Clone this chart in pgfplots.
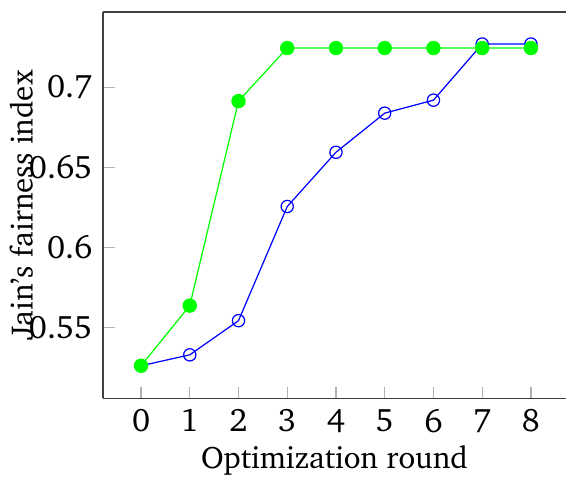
\documentclass[border=0pt]{standalone}
\usepackage[T1]{fontenc}
\usepackage{charter}
\usepackage{pgfplots}
\pgfplotsset{compat=1.18}
\usetikzlibrary{calc}
\begin{document}
\begin{tikzpicture}
\begin{axis}[
  name=ax,
  scale only axis,
  width=151pt, height=126pt,
  xmin=-0.78, xmax=8.72,
  ymin=0.506, ymax=0.7469,
  axis x line*=box, axis y line*=left,
  xtick={0,1,2,3,4,5,6,7,8},
  ytick={0.55,0.6,0.65,0.7},
  yticklabels={0.55,0.6,0.65,0.7},
  xtick pos=bottom, ytick pos=left,
  tick align=inside,
  major tick length=3.8pt,
  major tick style={gray!60, line width=0.4pt},
  axis line style={black!75},
  /pgf/number format/assume math mode=true,
  ticklabel style={font=\fontsize{10.6}{13}\selectfont},
  label style={font=\fontsize{10.1}{12}\selectfont},
  xlabel={Optimization round},
  ylabel={Jain's fairness index},
  xlabel style={at={(axis description cs:0.5,0)}, anchor=center, yshift=-20.3pt},
  ylabel style={at={(axis description cs:0,0.5)}, anchor=center, yshift=26.6pt},
]
\addplot[blue, line width=0.4pt, mark=o, mark size=2pt, mark options={line width=0.4pt}]
  coordinates {(0,0.5263) (1,0.5331) (2,0.5544) (3,0.6256) (4,0.6594) (5,0.6838) (6,0.6919) (7,0.7269) (8,0.7269)};
\addplot[green, line width=0.4pt, mark=*, mark size=2.15pt, mark options={fill=green, draw=green}]
  coordinates {(0,0.5263) (1,0.5638) (2,0.6913) (3,0.7244) (4,0.7244) (5,0.7244) (6,0.7244) (7,0.7244) (8,0.7244)};
\end{axis}
\pgfresetboundingbox
\path[use as bounding box] ($(ax.south west)+(-33.6pt,-25.5pt)$) rectangle ($(ax.north east)+(0,3.9pt)$);
\end{tikzpicture}
\end{document}
